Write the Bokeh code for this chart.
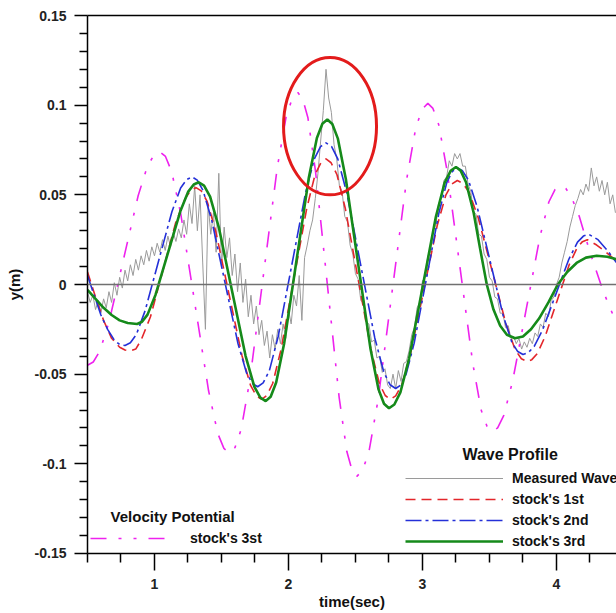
from bokeh.plotting import figure
from bokeh.models import (Span, Legend, LegendItem, Label, LinearAxis, FixedTicker,
                          NumeralTickFormatter, Range1d)
from bokeh.embed import file_html
from bokeh.resources import INLINE

# ---------------- data ----------------
# Measured wave (sampled every 0.02 s from 0.50 s)
meas_t0 = 0.50
meas_dt = 0.02
y_meas = [
    -0.004, -0.010, -0.006, -0.014, -0.009, -0.016, -0.008, -0.013, -0.004, -0.010,
    0.001, -0.006, 0.004, -0.002, 0.008, 0.002, 0.011, 0.005, 0.014, 0.008,
    0.016, 0.011, 0.019, 0.013, 0.021, 0.016, 0.023, 0.018, 0.025, 0.019,
    0.027, 0.021, 0.029, 0.024, 0.031, 0.026, 0.036, 0.028, 0.045, 0.034,
    0.055, 0.030, 0.050, 0.012, -0.025, 0.045, 0.028, 0.040, 0.018, 0.062,
    0.010, 0.032, 0.015, 0.026, 0.005, 0.017, -0.004, 0.012, -0.010, 0.003,
    -0.018, -0.006, -0.022, -0.012, -0.028, -0.020, -0.034, -0.026, -0.041, -0.028,
    -0.036, -0.025, -0.033, -0.022, -0.030, -0.014, -0.022, -0.006, -0.012, 0.005,
    -0.020, 0.015, 0.022, 0.030, 0.036, 0.048, 0.062, 0.080, 0.097, 0.120,
    0.104, 0.096, 0.078, 0.070, 0.055, 0.052, 0.038, 0.035, 0.022, 0.017,
    0.006, 0.003, -0.009, -0.010, -0.021, -0.022, -0.032, -0.031, -0.041, -0.040,
    -0.049, -0.047, -0.056, -0.058, -0.050, -0.058, -0.048, -0.054, -0.044, -0.043,
    -0.037, -0.028, -0.024, -0.013, -0.010, 0.002, 0.004, 0.016, 0.018, 0.031,
    0.033, 0.045, 0.048, 0.058, 0.060, 0.069, 0.066, 0.073, 0.070, 0.073,
    0.066, 0.066, 0.056, 0.052, 0.041, 0.039, 0.028, 0.027, 0.017, 0.014,
    0.004, 0.002, -0.007, -0.008, -0.016, -0.016, -0.024, -0.023, -0.030, -0.029,
    -0.033, -0.030, -0.036, -0.032, -0.035, -0.030, -0.033, -0.027, -0.029, -0.022,
    -0.024, -0.016, -0.018, -0.009, -0.007, 0.000, 0.004, 0.012, 0.018, 0.024,
    0.032, 0.038, 0.044, 0.048, 0.053, 0.050, 0.056, 0.052, 0.065, 0.055,
    0.060, 0.052, 0.058, 0.050, 0.057, 0.045, 0.050, 0.040,
]
t_meas = [round(meas_t0 + meas_dt * i, 3) for i in range(len(y_meas))]

# Stock's 1st order (red dashed)
t_1st = [0.50, 0.56, 0.62, 0.68, 0.74, 0.78, 0.82,
         0.86, 0.90, 0.97, 1.065, 1.16, 1.23, 1.27, 1.31,
         1.349, 1.393, 1.457, 1.555, 1.653, 1.717, 1.761, 1.80,
         1.838, 1.882, 1.944, 2.04, 2.136, 2.198, 2.242, 2.28,
         2.318, 2.362, 2.424, 2.52, 2.616, 2.678, 2.722, 2.76,
         2.80, 2.845, 2.91, 3.01, 3.11, 3.175, 3.22, 3.26,
         3.302, 3.348, 3.416, 3.52, 3.624, 3.692, 3.738, 3.78,
         3.816, 3.857, 3.915, 4.005, 4.095, 4.154, 4.194, 4.23,
         4.30, 4.37, 4.45]
y_1st = [0.007, -0.007, -0.020, -0.030, -0.035, -0.0365, -0.037,
         -0.036, -0.031, -0.018, 0.0085, 0.035, 0.048, 0.0525, 0.054,
         0.0522, 0.0463, 0.0297, -0.005, -0.0397, -0.0563, -0.0622, -0.064,
         -0.0619, -0.0552, -0.0364, 0.003, 0.0424, 0.0612, 0.0679, 0.070,
         0.0679, 0.0612, 0.0424, 0.003, -0.0364, -0.0552, -0.0619, -0.064,
         -0.0621, -0.056, -0.0389, -0.003, 0.0329, 0.050, 0.0561, 0.058,
         0.0564, 0.0514, 0.0372, 0.0075, -0.0222, -0.0364, -0.0414, -0.043,
         -0.0419, -0.0385, -0.029, -0.009, 0.011, 0.0205, 0.0239, 0.025,
         0.022, 0.018, 0.013]

# Stock's 2nd order (blue dash-dot)
t_2nd = [0.50, 0.55, 0.60, 0.65, 0.70, 0.74, 0.78,
         0.82, 0.865, 0.93, 1.03, 1.13, 1.195, 1.24, 1.28,
         1.319, 1.363, 1.427, 1.525, 1.623, 1.687, 1.731, 1.77,
         1.811, 1.857, 1.923, 2.025, 2.127, 2.193, 2.239, 2.28,
         2.322, 2.368, 2.436, 2.54, 2.644, 2.712, 2.758, 2.80,
         2.837, 2.878, 2.938, 3.03, 3.122, 3.182, 3.223, 3.26,
         3.299, 3.343, 3.407, 3.505, 3.603, 3.667, 3.711, 3.75,
         3.789, 3.833, 3.897, 3.995, 4.093, 4.157, 4.201, 4.24,
         4.31, 4.38, 4.45]
y_2nd = [0.005, -0.006, -0.017, -0.025, -0.031, -0.0335, -0.034,
         -0.0325, -0.0278, -0.0146, 0.013, 0.0406, 0.0538, 0.0585, 0.060,
         0.0582, 0.0523, 0.0359, 0.0015, -0.0329, -0.0493, -0.0552, -0.057,
         -0.0549, -0.0481, -0.029, 0.011, 0.051, 0.0701, 0.0769, 0.079,
         0.0769, 0.070, 0.0508, 0.0105, -0.0298, -0.049, -0.0559, -0.058,
         -0.0561, -0.050, -0.0327, 0.0035, 0.0397, 0.057, 0.0631, 0.065,
         0.0634, 0.0582, 0.0436, 0.013, -0.0176, -0.0322, -0.0374, -0.039,
         -0.038, -0.0346, -0.0252, -0.0055, 0.0142, 0.0236, 0.027, 0.028,
         0.025, 0.019, 0.012]

# Stock's 3rd order (green solid)
t_3rd = [0.50, 0.56, 0.62, 0.68, 0.74, 0.80, 0.87,
         0.907, 0.948, 1.008, 1.10, 1.192, 1.252, 1.293, 1.33,
         1.37, 1.415, 1.48, 1.58, 1.68, 1.745, 1.79, 1.83,
         1.867, 1.908, 1.968, 2.06, 2.152, 2.212, 2.253, 2.29,
         2.327, 2.368, 2.428, 2.52, 2.612, 2.672, 2.713, 2.75,
         2.79, 2.835, 2.90, 3.00, 3.10, 3.165, 3.21, 3.25,
         3.285, 3.325, 3.382, 3.43, 3.48, 3.53, 3.58, 3.63, 3.69,
         3.75, 3.81, 3.87, 3.94, 4.01, 4.08, 4.15, 4.22, 4.30, 4.38, 4.45]
y_3rd = [-0.003, -0.008, -0.013, -0.017, -0.020, -0.0215, -0.022,
         -0.0208, -0.0168, -0.0057, 0.0175, 0.0407, 0.0518, 0.0558, 0.057,
         0.0551, 0.049, 0.0319, -0.004, -0.0399, -0.057, -0.0631, -0.065,
         -0.0626, -0.0547, -0.0327, 0.0135, 0.0597, 0.0817, 0.0896, 0.092,
         0.0895, 0.0815, 0.0588, 0.0115, -0.0358, -0.0585, -0.0665, -0.069,
         -0.0669, -0.0602, -0.0413, -0.0018, 0.0378, 0.0567, 0.0634, 0.0655,
         0.0635, 0.057, 0.040, 0.020, 0.000, -0.014, -0.023, -0.028, -0.030,
         -0.029, -0.025, -0.019, -0.010, 0.000, 0.007, 0.012, 0.015, 0.016, 0.0155, 0.014]

# Velocity potential, stock's 3rd (magenta)
t_vp = [0.50, 0.543, 0.592, 0.662, 0.77, 0.878, 0.948, 0.997, 1.04,
        1.082, 1.128, 1.196, 1.30, 1.404, 1.472, 1.518, 1.56,
        1.601, 1.647, 1.713, 1.815, 1.917, 1.983, 2.029, 2.07,
        2.105, 2.145, 2.202, 2.29, 2.378, 2.435, 2.475, 2.51,
        2.552, 2.60, 2.669, 2.775, 2.881, 2.95, 2.998, 3.04,
        3.078, 3.122, 3.184, 3.28, 3.376, 3.438, 3.482, 3.52,
        3.561, 3.607, 3.673, 3.775, 3.877, 3.943, 3.989, 4.03,
        4.07, 4.11, 4.17, 4.25, 4.35, 4.45]
y_vp = [-0.045, -0.0432, -0.0372, -0.0205, 0.0145, 0.0495, 0.0662, 0.0722, 0.074,
        0.0714, 0.063, 0.0394, -0.010, -0.0594, -0.083, -0.0914, -0.094,
        -0.0909, -0.0808, -0.0526, 0.0065, 0.0656, 0.0938, 0.1039, 0.107,
        0.1037, 0.093, 0.0629, 0.000, -0.0629, -0.093, -0.1037, -0.107,
        -0.1038, -0.0934, -0.0642, -0.003, 0.0582, 0.0874, 0.0978, 0.101,
        0.0982, 0.089, 0.0633, 0.0095, -0.0443, -0.070, -0.0792, -0.082,
        -0.0799, -0.073, -0.0538, -0.0135, 0.0268, 0.046, 0.0529, 0.055,
        0.0535, 0.049, 0.038, 0.018, -0.004, -0.022]

# axis ticks
y_ticks = [-0.15, -0.1, -0.05, 0, 0.05, 0.1, 0.15]
y_minor = [-0.14, -0.13, -0.12, -0.11, -0.09, -0.08, -0.07, -0.06, -0.04, -0.03,
           -0.02, -0.01, 0.01, 0.02, 0.03, 0.04, 0.06, 0.07, 0.08, 0.09,
           0.11, 0.12, 0.13, 0.14]
x_ticks = [1, 2, 3, 4]
x_minor = [0.5, 0.75, 1.25, 1.5, 1.75, 2.25, 2.5, 2.75, 3.25, 3.5, 3.75, 4.25]

# highlight ellipse (centre, size in data units)
circ_x, circ_y, circ_w, circ_h = 2.31, 0.0883, 0.694, 0.0767

FONT = "Liberation Sans"

p = figure(width=616, height=613, output_backend="svg", toolbar_location=None,
           x_range=Range1d(0.5, 4.448), y_range=Range1d(-0.150001, 0.150001),
           min_border_left=87, min_border_right=0, min_border_top=15,
           min_border_bottom=60)
p.background_fill_color = "white"
p.border_fill_color = "white"
p.outline_line_color = None
p.grid.visible = False

xa = p.xaxis[0]
xa.ticker = FixedTicker(ticks=x_ticks, minor_ticks=x_minor)
ya = p.yaxis[0]
ya.ticker = FixedTicker(ticks=y_ticks, minor_ticks=y_minor)
ya.formatter = NumeralTickFormatter(format="0.[00]")
for ax in (xa, ya):
    ax.axis_line_color = "black"
    ax.axis_line_width = 1.5
    ax.major_tick_line_color = "black"
    ax.major_tick_line_width = 1.5
    ax.minor_tick_line_color = "black"
    ax.minor_tick_line_width = 1.5
    ax.major_tick_in = 0
    ax.minor_tick_in = 0
    ax.major_label_text_font = FONT
    ax.major_label_text_font_style = "bold"
    ax.major_label_text_font_size = "14px"
    ax.major_label_text_color = "#222222"
    ax.axis_label_text_font = FONT
    ax.axis_label_text_font_style = "bold"
    ax.axis_label_text_font_size = "15px"
    ax.axis_label_text_color = "#111111"
xa.major_tick_out = 17
xa.minor_tick_out = 9
xa.major_label_standoff = 8
xa.axis_label = "time(sec)"
xa.axis_label_standoff = 1
ya.major_tick_out = 13
ya.minor_tick_out = 8
ya.major_label_standoff = 8
ya.axis_label = "y(m)"
ya.axis_label_standoff = 9

top = LinearAxis(ticker=FixedTicker(ticks=[]), major_tick_out=0, major_tick_in=0,
                 minor_tick_out=0, minor_tick_in=0, axis_line_width=1.5,
                 major_label_text_font_size="0px")
p.add_layout(top, "above")

p.add_layout(Span(location=0, dimension="width", line_color="#707070", line_width=1.3))

r_meas = p.line(t_meas, y_meas, line_color="#9a9a9a", line_width=1)
r_vp = p.line(t_vp, y_vp, line_color="#ee22ee", line_width=1.6, line_dash="16 12 3 12 3 12")
r_1st = p.line(t_1st, y_1st, line_color="#e3262b", line_width=1.6, line_dash="10 6")
r_2nd = p.line(t_2nd, y_2nd, line_color="#2430d8", line_width=1.6, line_dash="16 4 3 4")
r_3rd = p.line(t_3rd, y_3rd, line_color="#158a1a", line_width=2.6)

p.ellipse(x=[circ_x], y=[circ_y], width=circ_w, height=circ_h,
          fill_color=None, line_color="#e31b1b", line_width=3)

wave_legend = Legend(items=[
    LegendItem(label="Measured Wave", renderers=[r_meas]),
    LegendItem(label="stock's 1st", renderers=[r_1st]),
    LegendItem(label="stock's 2nd", renderers=[r_2nd]),
    LegendItem(label="stock's 3rd", renderers=[r_3rd]),
], location=(318, 2), orientation="vertical", padding=0, margin=0, spacing=1,
    glyph_width=98, glyph_height=20, label_height=20, label_standoff=9,
    label_text_font=FONT, label_text_font_style="bold", label_text_font_size="14px",
    label_text_color="#111111", background_fill_alpha=0, border_line_alpha=0)
p.add_layout(wave_legend)

vp_legend = Legend(items=[LegendItem(label="stock's 3st", renderers=[r_vp])],
                   location=(3, 5), padding=0, margin=0, spacing=0,
                   glyph_width=85, glyph_height=20, label_height=20, label_standoff=15,
                   label_text_font=FONT, label_text_font_style="bold",
                   label_text_font_size="14px", label_text_color="#111111",
                   background_fill_alpha=0, border_line_alpha=0)
p.add_layout(vp_legend)

p.add_layout(Label(x=3.298, y=-0.095, text="Wave Profile", text_font=FONT,
                   text_font_style="bold", text_font_size="16px", text_baseline="middle",
                   text_color="#111111"))
p.add_layout(Label(x=0.672, y=-0.1294, text="Velocity Potential", text_font=FONT,
                   text_font_style="bold", text_font_size="15px", text_baseline="middle",
                   text_color="#111111"))

open("out.html", "w").write(file_html(p, INLINE))
